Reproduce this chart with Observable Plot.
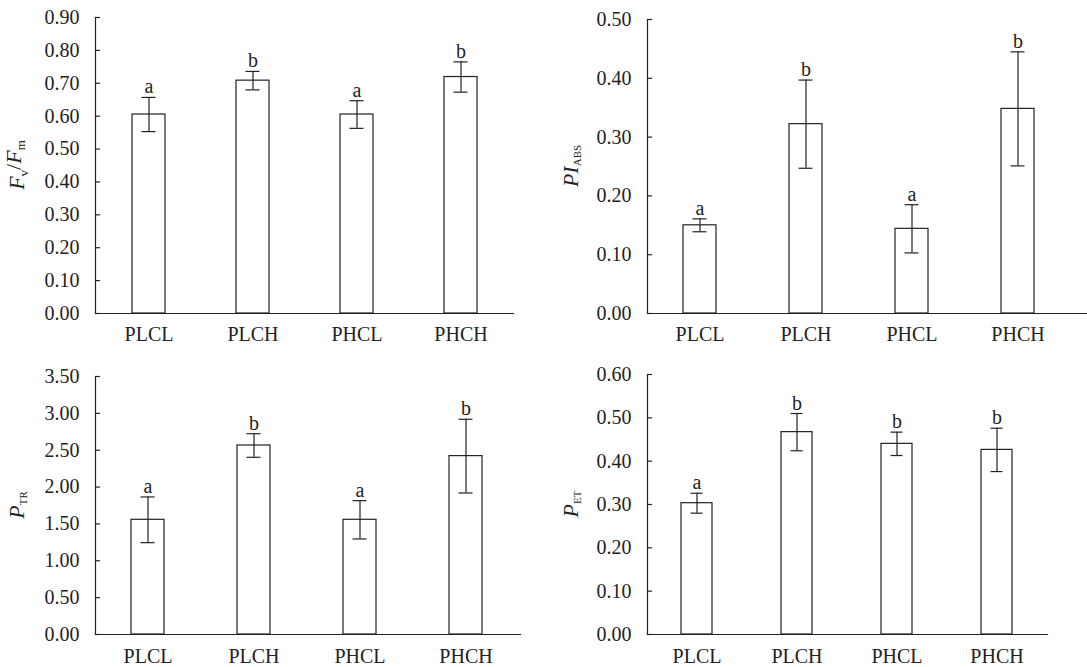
<!DOCTYPE html>
<html><head><meta charset="utf-8">
<script src="https://cdn.jsdelivr.net/npm/d3@7"></script>
<script src="https://cdn.jsdelivr.net/npm/@observablehq/plot@0.6"></script>
<style>
html,body{margin:0;padding:0;background:#fff;}
#chart{position:relative;width:1087px;height:667px;background:#fff;}
#chart svg{position:absolute;}
</style></head><body><div id="chart"></div>
<script>
// ---- data ----
const categories = ["PLCL", "PLCH", "PHCL", "PHCH"];

const fvfmMean = [0.605, 0.708, 0.605, 0.719];
const fvfmErr = [0.052, 0.028, 0.042, 0.046];
const fvfmLetters = ["a", "b", "a", "b"];
const fvfmTicks = [0, 0.1, 0.2, 0.3, 0.4, 0.5, 0.6, 0.7, 0.8, 0.9];

const piMean = [0.150, 0.322, 0.144, 0.348];
const piErr = [0.011, 0.075, 0.041, 0.097];
const piLetters = ["a", "b", "a", "b"];
const piTicks = [0, 0.1, 0.2, 0.3, 0.4, 0.5];

const ptrMean = [1.556, 2.564, 1.556, 2.420];
const ptrErr = [0.31, 0.16, 0.26, 0.50];
const ptrLetters = ["a", "b", "a", "b"];
const ptrTicks = [0, 0.5, 1.0, 1.5, 2.0, 2.5, 3.0, 3.5];

const petMean = [0.303, 0.467, 0.440, 0.426];
const petErr = [0.023, 0.043, 0.027, 0.050];
const petLetters = ["a", "b", "b", "b"];
const petTicks = [0, 0.1, 0.2, 0.3, 0.4, 0.5, 0.6];

// y-axis titles: [text, italic?, subscript?]
const fvfmTitle = [["F", true, false], ["v", false, true], ["/", false, false], ["F", true, false], ["m", false, true]];
const piTitle = [["PI", true, false], ["ABS", false, true]];
const ptrTitle = [["P", true, false], ["TR", false, true]];
const petTitle = [["P", true, false], ["ET", false, true]];

// ---- layout ----
const panels = [
  {mean: fvfmMean, err: fvfmErr, letters: fvfmLetters, ticks: fvfmTicks, title: fvfmTitle,
   left: 0, top: 0, width: 540, height: 345, mL: 95, mR: 27, mT: 17, mB: 32, xEnd: 513, tickPad: 13, titleX: 24},
  {mean: piMean, err: piErr, letters: piLetters, ticks: piTicks, title: piTitle,
   left: 540, top: 0, width: 547, height: 345, mL: 107, mR: 0, mT: 19, mB: 32, xEnd: 531, tickPad: 13, titleX: 38},
  {mean: ptrMean, err: ptrErr, letters: ptrLetters, ticks: ptrTicks, title: ptrTitle,
   left: 0, top: 345, width: 540, height: 322, mL: 95, mR: 20, mT: 31, mB: 33, xEnd: 519, tickPad: 14, titleX: 24},
  {mean: petMean, err: petErr, letters: petLetters, ticks: petTicks, title: petTitle,
   left: 540, top: 345, width: 547, height: 322, mL: 107, mR: 40, mT: 29, mB: 33, xEnd: 507, tickPad: 14, titleX: 38}
];

const ink = "#222";
const chart = document.getElementById("chart");

for (const p of panels) {
  const rows = categories.map((c, i) => ({
    cat: c, mean: p.mean[i], lo: p.mean[i] - p.err[i], hi: p.mean[i] + p.err[i], letter: p.letters[i]
  }));
  const ymax = p.ticks[p.ticks.length - 1];
  const svg = Plot.plot({
    width: p.width,
    height: p.height,
    marginLeft: p.mL,
    marginRight: p.mR,
    marginTop: p.mT,
    marginBottom: p.mB,
    style: {fontFamily: "'Liberation Serif', 'Times New Roman', serif", fontSize: "20px", color: ink, background: "white", overflow: "visible"},
    x: {domain: categories, range: [p.mL, p.xEnd], paddingInner: 0.685, paddingOuter: 0.3425, label: null},
    y: {domain: [0, ymax], label: null},
    marks: [
      Plot.barY(rows, {x: "cat", y: "mean", fill: "white", stroke: ink, strokeWidth: 1.2}),
      Plot.ruleX(rows, {x: "cat", y1: "lo", y2: "hi", stroke: ink, strokeWidth: 1.2}),
      Plot.tickY(rows, {x: "cat", y: "lo", stroke: ink, strokeWidth: 1.2, insetLeft: 9.5, insetRight: 9.5}),
      Plot.tickY(rows, {x: "cat", y: "hi", stroke: ink, strokeWidth: 1.2, insetLeft: 9.5, insetRight: 9.5}),
      Plot.text(rows, {x: "cat", y: "hi", text: "letter", lineAnchor: "bottom", dy: -4, fill: ink, fontSize: 20}),
      Plot.frame({anchor: "left", stroke: ink, strokeWidth: 1.2}),
      Plot.frame({anchor: "bottom", stroke: ink, strokeWidth: 1.2}),
      Plot.axisY({ticks: p.ticks, tickSize: -5, tickPadding: 21, tickFormat: d3.format(".2f"), stroke: ink, strokeWidth: 1.2}),
      Plot.axisX({tickSize: 0, tickPadding: p.tickPad})
    ]
  });
  svg.style.left = p.left + "px";
  svg.style.top = p.top + "px";
  // y-axis title with italic and subscript parts
  const cy = (p.mT + (p.height - p.mB)) / 2;
  const t = d3.select(svg).append("text")
    .attr("transform", `translate(${p.titleX},${cy}) rotate(-90)`)
    .attr("text-anchor", "middle")
    .attr("fill", ink)
    .style("font-family", "'Liberation Serif', 'Times New Roman', serif")
    .style("font-size", "22px");
  let shifted = false;
  for (const [s, it, sub] of p.title) {
    const ts = t.append("tspan").text(s);
    if (it) ts.style("font-style", "italic");
    if (sub && !shifted) { ts.attr("dy", "0.3em").style("font-size", s.length > 1 ? "11px" : "13px"); shifted = true; }
    else if (!sub && shifted) { ts.attr("dy", "-0.3em"); shifted = false; }
    else if (sub) ts.style("font-size", "13px");
  }
  chart.appendChild(svg);
}
</script></body></html>
